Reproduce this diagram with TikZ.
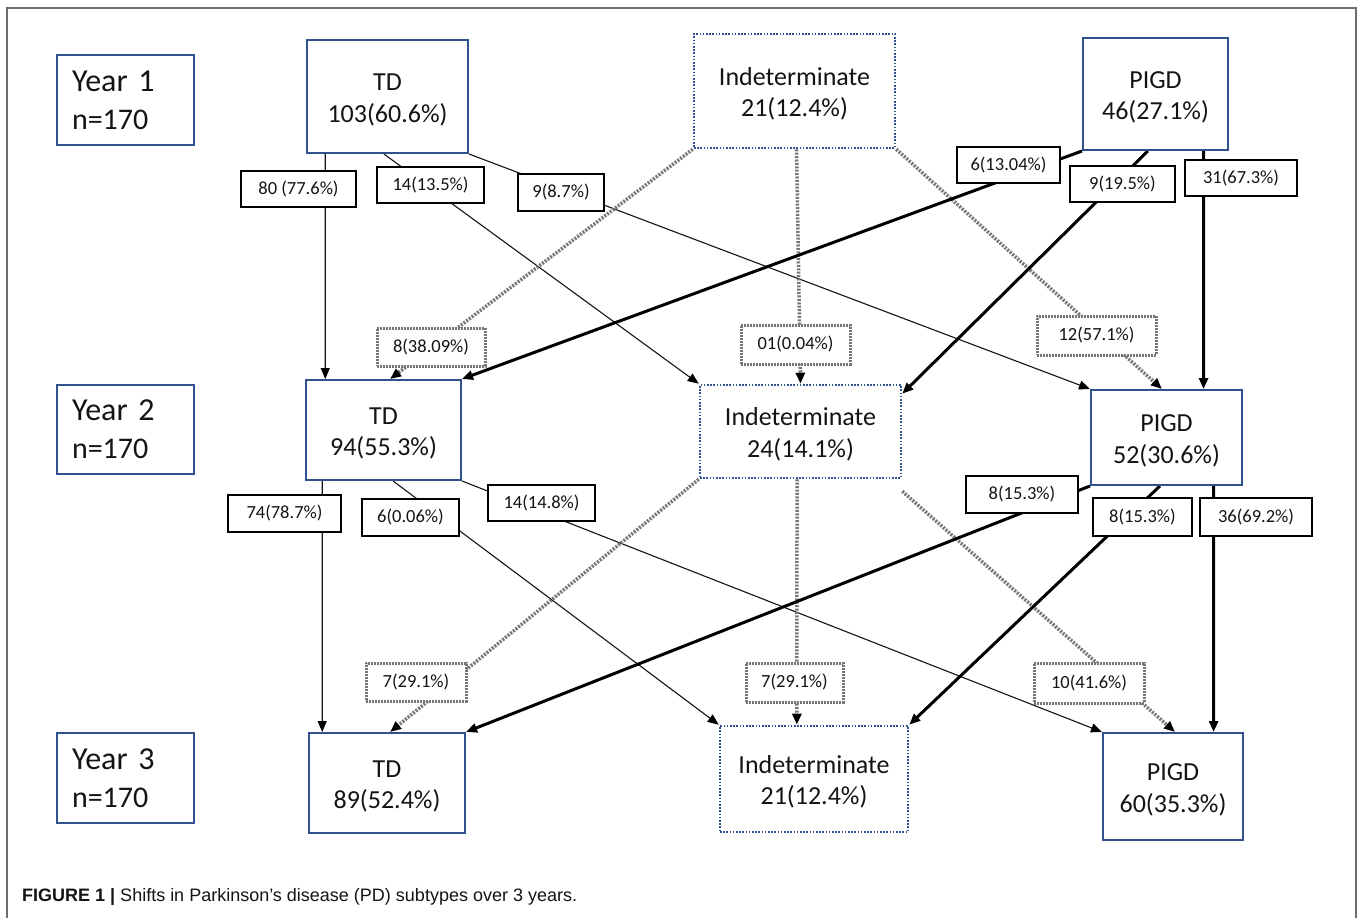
\documentclass[tikz,border=0pt]{standalone}
\usepackage{fontspec}
\setmainfont{Carlito}
\newfontfamily\capfont{Liberation Sans}
\usetikzlibrary{calc,arrows.meta,backgrounds}
\definecolor{navy}{RGB}{47,82,143}
\definecolor{dotgray}{RGB}{118,118,118}
\definecolor{ink}{RGB}{20,20,20}
\definecolor{framegray}{RGB}{110,110,110}
\newcommand{\topgap}{\rule{0pt}{24pt}}
\tikzset{
  wh/.style 2 args={minimum width=#1pt, minimum height=#2pt},
  mainbox/.style={draw=navy, line width=2pt, fill=white, align=center, inner sep=0pt, text=ink,
    font=\fontsize{26}{31.5}\selectfont},
  indbox/.style={mainbox, draw=navy, dash pattern=on 1.6pt off 1.6pt, line width=2.6pt},
  yearbox/.style={draw=navy, line width=1.6pt, fill=white, align=left, inner sep=0pt, text=ink,
    text width=107pt, minimum width=137pt, font=\fontsize{32}{38}\selectfont},
  lab/.style={draw=black, line width=1.8pt, fill=white, inner sep=0pt, text=ink,
    font=\fontsize{18.5}{20}\selectfont},
  labthick/.style={lab, line width=2.6pt},
  dlab/.style={draw=dotgray, line width=3pt, dash pattern=on 1.6pt off 1.4pt, fill=white, inner sep=0pt, text=ink,
    font=\fontsize{18.5}{20}\selectfont},
  tip/.style={-{Triangle[length=11pt,width=9pt,color=black]}},
  thin/.style={tip, line width=1.1pt, draw=ink},
  thick/.style={tip, line width=3pt, draw=black},
  dotline/.style={tip, line width=3.5pt, draw=dotgray, dash pattern=on 2pt off 1.4pt},
}
\begin{document}
\begin{tikzpicture}[x=1pt,y=-1pt]
\useasboundingbox (0,0) rectangle (1358,918);

% year labels
\node[yearbox, minimum height=90pt] (Y1) at (125.5,100) {Year 1\\{\fontsize{30}{38}\selectfont n=170}};
\node[yearbox, minimum height=89pt] (Y2) at (125.5,429.5) {Year 2\\{\fontsize{30}{38}\selectfont n=170}};
\node[yearbox, minimum height=90pt] (Y3) at (125.5,778) {Year 3\\{\fontsize{30}{38}\selectfont n=170}};

% main nodes
\node[mainbox, wh={161}{113}] (TD1) at (387.5,96.5) {\topgap TD\\103(60.6\%)};
\node[indbox, wh={201}{114}] (IN1) at (794.5,91) {\topgap Indeterminate\\21(12.4\%)};
\node[mainbox, wh={145}{112}] (PG1) at (1155.5,94) {\topgap PIGD\\46(27.1\%)};
\node[mainbox, wh={155}{100}] (TD2) at (383.5,430) {\topgap TD\\94(55.3\%)};
\node[indbox, wh={201}{93}] (IN2) at (800.5,431.5) {\topgap Indeterminate\\24(14.1\%)};
\node[mainbox, wh={151}{95}] (PG2) at (1166.5,437.5) {\topgap PIGD\\52(30.6\%)};
\node[mainbox, wh={156}{100}] (TD3) at (387,783) {\topgap TD\\89(52.4\%)};
\node[indbox, wh={188}{106}] (IN3) at (814,779) {\topgap Indeterminate\\21(12.4\%)};
\node[mainbox, wh={140}{107}] (PG3) at (1173,786.5) {\topgap PIGD\\60(35.3\%)};

% edge labels
\node[lab, wh={115}{36}] (l80) at (298.5,189) {80 (77.6\%)};
\node[lab, wh={107}{36}] (l14a) at (430.5,185) {14(13.5\%)};
\node[lab, wh={86}{37}] (l9a) at (561,192.5) {9(8.7\%)};
\node[labthick, wh={103}{36}] (l6) at (1008.5,165) {6(13.04\%)};
\node[labthick, wh={105}{36}] (l9b) at (1122.5,184) {9(19.5\%)};
\node[labthick, wh={112}{36}] (l31) at (1241,178) {31(67.3\%)};
\node[dlab, wh={108}{38}] (d8) at (431,347) {8(38.09\%)};
\node[dlab, wh={109}{39}] (d01) at (795.5,344.5) {01(0.04\%)};
\node[dlab, wh={119}{39}] (d12) at (1096.5,335.5) {12(57.1\%)};
\node[lab, wh={113}{37}] (l74) at (284.5,513.5) {74(78.7\%)};
\node[lab, wh={97}{37}] (l6b) at (410.5,517.5) {6(0.06\%)};
\node[lab, wh={107}{36}] (l14b) at (541.5,503) {14(14.8\%)};
\node[labthick, wh={112}{37}] (l8a) at (1022,494.5) {8(15.3\%)};
\node[labthick, wh={99}{38}] (l8b) at (1142.5,517) {8(15.3\%)};
\node[labthick, wh={112}{38}] (l36) at (1256,517) {36(69.2\%)};
\node[dlab, wh={100}{38}] (d7a) at (416,682) {7(29.1\%)};
\node[dlab, wh={97}{39}] (d7b) at (794.5,682.5) {7(29.1\%)};
\node[dlab, wh={110}{40}] (d10) at (1089,683) {10(41.6\%)};

\begin{pgfonlayer}{background}
\fill[white] (0,0) rectangle (1358,918);
\draw[framegray, line width=2pt] (7,930) -- (7,8) -- (1356,8) -- (1356,930);
% year 1 -> year 2
\draw[thin] ($(TD1.south west)!0.118!(TD1.south east)$) -- ($(TD2.north west)!0.129!(TD2.north east)$);
\draw[thin] ($(TD1.south west)!0.478!(TD1.south east)$) -- (IN2.north west);
\draw[thin] (TD1.south east) -- (PG2.north west);
\draw[dotline] (IN1.south west) -- ($(TD2.north west)!0.542!(TD2.north east)$);
\draw[dotline] ($(IN1.south west)!0.51!(IN1.south east)$) -- (IN2.north);
\draw[dotline] (IN1.south east) -- ($(PG2.north west)!0.47!(PG2.north east)$);
\draw[thick] (PG1.south west) -- (TD2.north east);
\draw[thick] ($(PG1.south west)!0.448!(PG1.south east)$) -- ($(IN2.north east)+(0,10)$);
\draw[thick] ($(PG1.south west)!0.828!(PG1.south east)$) -- ($(PG2.north west)!0.742!(PG2.north east)$);
% year 2 -> year 3
\draw[thin] ($(TD2.south west)!0.11!(TD2.south east)$) -- ($(TD3.north west)!0.09!(TD3.north east)$);
\draw[thin] ($(TD2.south west)!0.561!(TD2.south east)$) -- (IN3.north west);
\draw[thin] (TD2.south east) -- (PG3.north west);
\draw[dotline] (IN2.south west) -- ($(TD3.north west)!0.52!(TD3.north east)$);
\draw[dotline] ($(IN2.south west)!0.483!(IN2.south east)$) -- ($(IN3.north west)!0.41!(IN3.north east)$);
\draw[dotline] ($(IN2.south east)+(0,12)$) -- ($(PG3.north west)!0.514!(PG3.north east)$);
\draw[thick] (PG2.south west) -- (TD3.north east);
\draw[thick] ($(PG2.south west)!0.457!(PG2.south east)$) -- (IN3.north east);
\draw[thick] ($(PG2.south west)!0.808!(PG2.south east)$) -- ($(PG3.north west)!0.786!(PG3.north east)$);
\end{pgfonlayer}

% caption
\node[anchor=west, inner sep=0pt, text=ink] (cap) at (22,897)
  {\capfont\fontsize{18}{20}\selectfont\textbf{FIGURE 1 |} Shifts in Parkinson’s disease (PD) subtypes over 3 years.};
\end{tikzpicture}
\end{document}
